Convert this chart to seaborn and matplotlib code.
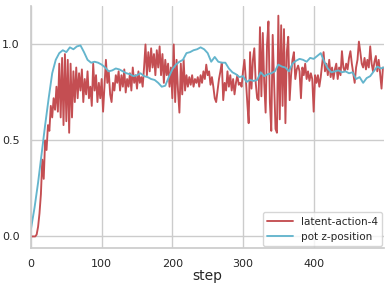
import numpy as np
import pandas as pd
import matplotlib
matplotlib.use("Agg")
import matplotlib.pyplot as plt
import seaborn as sns

# red series, one value every 2 steps (0..498)
latent_action = [
    0.00, 0.00, 0.00, 0.00, 0.01, 0.05, 0.12, 0.22, 0.40, 0.30,
    0.50, 0.45, 0.58, 0.55, 0.68, 0.62, 0.72, 0.66, 0.78, 0.65,
    0.90, 0.62, 0.93, 0.58, 0.95, 0.60, 0.92, 0.54, 0.90, 0.62,
    0.86, 0.70, 0.88, 0.72, 0.85, 0.76, 0.87, 0.70, 0.82, 0.74,
    0.86, 0.72, 0.78, 0.68, 0.90, 0.76, 0.84, 0.70, 0.80, 0.72,
    0.82, 0.65, 0.78, 0.92, 0.80, 0.86, 0.74, 0.70, 0.80, 0.76,
    0.84, 0.80, 0.86, 0.76, 0.84, 0.78, 0.87, 0.75, 0.82, 0.78,
    0.85, 0.76, 0.88, 0.80, 0.84, 0.77, 0.86, 0.80, 0.83, 0.78,
    0.88, 1.00, 0.84, 0.96, 0.86, 0.98, 0.88, 0.95, 0.84, 0.97,
    0.88, 0.99, 0.84, 0.95, 0.80, 0.92, 0.84, 0.90, 0.78, 0.88,
    0.72, 1.00, 0.70, 0.92, 0.76, 0.645, 0.90, 0.74, 0.92, 0.76,
    0.84, 0.78, 0.83, 0.79, 0.84, 0.78, 0.82, 0.80, 0.83, 0.78,
    0.84, 0.80, 0.86, 0.82, 0.895, 0.84, 0.86, 0.79, 0.83, 0.78,
    0.72, 0.70, 0.76, 0.82, 0.86, 0.905, 0.71, 0.80, 0.76, 0.86,
    0.78, 0.84, 0.76, 0.82, 0.74, 0.80, 0.84, 0.79, 0.80, 0.78,
    0.86, 0.92, 0.82, 0.70, 0.59, 0.96, 0.77, 0.92, 0.98, 0.80,
    0.72, 0.71, 1.09, 0.73, 1.06, 0.80, 0.645, 1.00, 1.12, 0.70,
    0.55, 1.05, 0.80, 0.56, 0.54, 1.15, 0.61, 1.10, 0.68, 1.08,
    0.59, 0.96, 1.04, 0.71, 0.84, 0.92, 0.96, 0.82, 0.87, 0.89,
    0.86, 0.72, 0.88, 0.84, 0.90, 0.82, 0.86, 0.81, 0.85, 0.82,
    0.65, 0.84, 0.80, 0.84, 0.78, 0.83, 0.90, 0.96, 0.86, 0.90,
    0.84, 0.92, 0.83, 0.88, 0.82, 0.87, 0.90, 0.82, 0.88, 0.84,
    0.965, 0.88, 0.86, 0.90, 0.87, 0.93, 0.965, 0.90, 0.85, 0.80,
    0.88, 0.92, 1.015, 0.96, 0.90, 0.88, 0.93, 0.87, 0.92, 0.88,
    0.99, 0.90, 0.86, 0.91, 0.94, 0.86, 0.92, 0.85, 0.77, 0.88,
]
latent_steps = np.arange(0, 500, 2)

# blue series, one value every 5 steps (0..495) plus last step
pot_z = [
    0.04, 0.15, 0.28, 0.43, 0.58, 0.72, 0.85, 0.92, 0.955, 0.97,
    0.96, 0.985, 0.975, 0.99, 0.995, 0.96, 0.92, 0.905, 0.91, 0.905,
    0.895, 0.88, 0.86, 0.865, 0.875, 0.87, 0.86, 0.85, 0.845, 0.835,
    0.84, 0.85, 0.835, 0.83, 0.82, 0.815, 0.80, 0.78, 0.785, 0.83,
    0.87, 0.895, 0.91, 0.92, 0.955, 0.96, 0.97, 0.975, 0.985, 0.975,
    0.955, 0.91, 0.935, 0.91, 0.905, 0.905, 0.875, 0.855, 0.845, 0.83,
    0.835, 0.805, 0.815, 0.81, 0.815, 0.855, 0.835, 0.845, 0.85, 0.86,
    0.895, 0.885, 0.88, 0.86, 0.90, 0.915, 0.925, 0.92, 0.91, 0.93,
    0.925, 0.94, 0.955, 0.91, 0.875, 0.855, 0.86, 0.865, 0.855, 0.86,
    0.85, 0.855, 0.82, 0.83, 0.80, 0.825, 0.835, 0.86, 0.885, 0.875,
    0.88,
]
pot_steps = list(range(0, 500, 5)) + [499]

labels = ["latent-action-4", "pot z-position"]
colors = ["#C44E52", "#64B5CD"]

df = pd.concat([
    pd.DataFrame({"step": latent_steps, "value": latent_action, "series": labels[0]}),
    pd.DataFrame({"step": pot_steps, "value": pot_z, "series": labels[1]}),
])

sns.set_theme(style="whitegrid")
fig = plt.figure(figsize=(3.9, 2.89), dpi=100)
ax = fig.add_axes([0.0795, 0.142, 0.906, 0.837])

sns.lineplot(
    data=df, x="step", y="value", hue="series", hue_order=labels,
    palette=colors, linewidth=1.35, ax=ax, estimator=None,
)

ax.set_xlim(0, 500)
ax.set_ylim(-0.06, 1.2)
ax.set_xticks([0, 100, 200, 300, 400])
ax.set_yticks([0.0, 0.5, 1.0])
ax.tick_params(labelsize=8, pad=2)
ax.set_xlabel("step", fontsize=10, labelpad=0)
ax.set_ylabel("")
sns.despine(ax=ax, top=True, right=True)
for s in ["left", "bottom"]:
    ax.spines[s].set_color("#cccccc")

ax.legend(loc="lower right", fontsize=7.5, title=None, frameon=True,
          borderaxespad=0.2, handlelength=2.5)

fig.savefig("out.png", dpi=100)
